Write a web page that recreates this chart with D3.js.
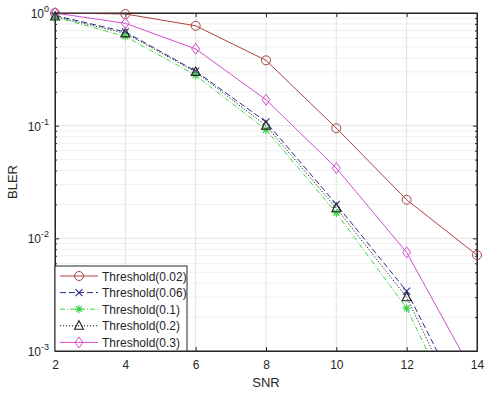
<!DOCTYPE html>
<html>
<head>
<meta charset="utf-8">
<script src="https://cdn.jsdelivr.net/npm/d3@7"></script>
<style>
  body { margin: 0; background: #fff; }
  text { font-family: "Liberation Sans", Arial, sans-serif; fill: #262626; }
</style>
</head>
<body>
<div id="chart"></div>
<script>
var snr = [2, 4, 6, 8, 10, 12, 14];
var xTicks = [2, 4, 6, 8, 10, 12, 14];
var yTicks = [1e-3, 1e-2, 1e-1, 1];

var bler002 = [1.0, 0.98, 0.77, 0.38, 0.095, 0.022, 0.0071];
var bler006 = [0.95, 0.68, 0.305, 0.108, 0.020, 0.0034, 0.0002];
var bler01  = [0.92, 0.62, 0.28, 0.092, 0.0168, 0.0024, 0.00012];
var bler02  = [0.93, 0.66, 0.30, 0.100, 0.0185, 0.0030, 0.00015];
var bler03  = [1.0, 0.81, 0.48, 0.17, 0.042, 0.0075, 0.00055];

var seriesNames = ["Threshold(0.02)", "Threshold(0.06)", "Threshold(0.1)", "Threshold(0.2)", "Threshold(0.3)"];

var series = [
  { name: seriesNames[0], values: bler002, color: "#a8443f", dash: null, marker: "circle" },
  { name: seriesNames[1], values: bler006, color: "#2b2f86", dash: "6,3", marker: "x" },
  { name: seriesNames[2], values: bler01,  color: "#3fd34a", dash: "5,2,1,2", marker: "star" },
  { name: seriesNames[3], values: bler02,  color: "#222222", dash: "1.2,1.8", marker: "triangle" },
  { name: seriesNames[4], values: bler03,  color: "#d14fd1", dash: null, marker: "diamond" }
];

var svgWidth = 488, svgHeight = 393;
var margin = { top: 13, right: 11, bottom: 42, left: 55 };
var width = svgWidth - margin.left - margin.right;
var height = svgHeight - margin.top - margin.bottom;

var svg = d3.select("#chart").append("svg")
  .attr("width", svgWidth).attr("height", svgHeight);

svg.append("defs").append("clipPath").attr("id", "clip")
  .append("rect").attr("width", width).attr("height", height);

var g = svg.append("g").attr("transform", `translate(${margin.left},${margin.top})`);

var x = d3.scaleLinear().domain([2, 14]).range([0, width]);
var y = d3.scaleLog().domain([1e-3, 1]).range([height, 0]);

// minor values for the log axis
var minorY = [];
for (var e = -3; e < 0; e++) {
  for (var m = 2; m <= 9; m++) minorY.push(m * Math.pow(10, e));
}

// grid
g.append("g").selectAll("line").data(minorY).enter().append("line")
  .attr("x1", 0).attr("x2", width)
  .attr("y1", d => y(d)).attr("y2", d => y(d))
  .attr("stroke", "#f0f0f0").attr("stroke-width", 1);
g.append("g").selectAll("line").data(yTicks).enter().append("line")
  .attr("x1", 0).attr("x2", width)
  .attr("y1", d => y(d)).attr("y2", d => y(d))
  .attr("stroke", "#e2e2e2").attr("stroke-width", 1);
g.append("g").selectAll("line").data(xTicks).enter().append("line")
  .attr("y1", 0).attr("y2", height)
  .attr("x1", d => x(d)).attr("x2", d => x(d))
  .attr("stroke", "#e2e2e2").attr("stroke-width", 1);

// axes
var xAxis = g.append("g").attr("transform", `translate(0,${height})`)
  .call(d3.axisBottom(x).tickValues(xTicks).tickSizeInner(-4).tickSizeOuter(0).tickPadding(9));
var xTop = g.append("g")
  .call(d3.axisTop(x).tickValues(xTicks).tickSizeInner(-4).tickSizeOuter(0).tickFormat(""));
var yAxis = g.append("g")
  .call(d3.axisLeft(y).tickValues(yTicks).tickSizeInner(-4).tickSizeOuter(0).tickPadding(7).tickFormat(""));
var yRight = g.append("g").attr("transform", `translate(${width},0)`)
  .call(d3.axisRight(y).tickValues(yTicks).tickSizeInner(-4).tickSizeOuter(0).tickFormat(""));
g.append("g").call(d3.axisLeft(y).tickValues(minorY).tickSizeInner(-2).tickSizeOuter(0).tickFormat(""));
g.append("g").attr("transform", `translate(${width},0)`)
  .call(d3.axisRight(y).tickValues(minorY).tickSizeInner(-2).tickSizeOuter(0).tickFormat(""));

svg.selectAll(".domain").attr("stroke", "#262626");
svg.selectAll(".tick line").attr("stroke", "#262626");
xAxis.selectAll("text").style("font-size", "12px").attr("fill", "#262626");

// y tick labels with superscripts
var yLab = g.append("g").selectAll("text").data(yTicks).enter().append("text")
  .attr("x", -6).attr("y", d => y(d) + 5)
  .attr("text-anchor", "end")
  .style("font-size", "12px");
yLab.append("tspan").text("10");
yLab.append("tspan").attr("dy", -6).style("font-size", "9px")
  .text(d => { var p = Math.round(Math.log10(d)); return p < 0 ? "-" + (-p) : "" + p; });

// axis titles
g.append("text").attr("x", width / 2).attr("y", height + 36)
  .attr("text-anchor", "middle").style("font-size", "13px").text("SNR");
g.append("text").attr("transform", `translate(-38,${height / 2}) rotate(-90)`)
  .attr("text-anchor", "middle").style("font-size", "13px").text("BLER");

// markers
function drawMarker(sel, type, color) {
  if (type === "circle") {
    sel.append("circle").attr("r", 4.5).attr("fill", "none").attr("stroke", color).attr("stroke-width", 1);
  } else if (type === "x") {
    sel.append("path").attr("d", "M-3.5,-3.5L3.5,3.5M-3.5,3.5L3.5,-3.5")
      .attr("stroke", color).attr("stroke-width", 1.1).attr("fill", "none");
  } else if (type === "star") {
    sel.append("path").attr("d", "M-4,0L4,0M0,-4L0,4M-3,-3L3,3M-3,3L3,-3")
      .attr("stroke", color).attr("stroke-width", 1.2).attr("fill", "none");
  } else if (type === "triangle") {
    sel.append("path").attr("d", "M0,-5L4.5,3.5L-4.5,3.5Z")
      .attr("stroke", color).attr("stroke-width", 1.1).attr("fill", "none");
  } else if (type === "diamond") {
    sel.append("path").attr("d", "M0,-5.5L4,0L0,5.5L-4,0Z")
      .attr("stroke", color).attr("stroke-width", 1).attr("fill", "none");
  }
}

var line = d3.line().x((d, i) => x(snr[i])).y(d => y(d));
var plot = g.append("g").attr("clip-path", "url(#clip)");

series.forEach(function(s) {
  plot.append("path").datum(s.values)
    .attr("d", line)
    .attr("fill", "none")
    .attr("stroke", s.color)
    .attr("stroke-width", 1)
    .attr("stroke-dasharray", s.dash);
});

series.forEach(function(s) {
  s.values.forEach(function(v, i) {
    if (v < 1e-3) return;
    var mg = g.append("g").attr("transform", `translate(${x(snr[i])},${y(v)})`);
    drawMarker(mg, s.marker, s.color);
  });
});

// box border
g.append("rect").attr("width", width).attr("height", height)
  .attr("fill", "none").attr("stroke", "#262626").attr("stroke-width", 1);

// legend
var legW = 132, legH = 85;
var leg = g.append("g").attr("transform", `translate(0,${height - legH})`);
leg.append("rect").attr("width", legW).attr("height", legH)
  .attr("fill", "#fff").attr("stroke", "#262626").attr("stroke-width", 1);
series.forEach(function(s, i) {
  var ly = 10 + i * 16.6;
  leg.append("line").attr("x1", 5).attr("x2", 43).attr("y1", ly).attr("y2", ly)
    .attr("stroke", s.color).attr("stroke-width", 1).attr("stroke-dasharray", s.dash);
  var mg = leg.append("g").attr("transform", `translate(24,${ly})`);
  drawMarker(mg, s.marker, s.color);
  leg.append("text").attr("x", 47).attr("y", ly + 4.5)
    .style("font-size", "12px").text(s.name);
});
</script>
</body>
</html>
